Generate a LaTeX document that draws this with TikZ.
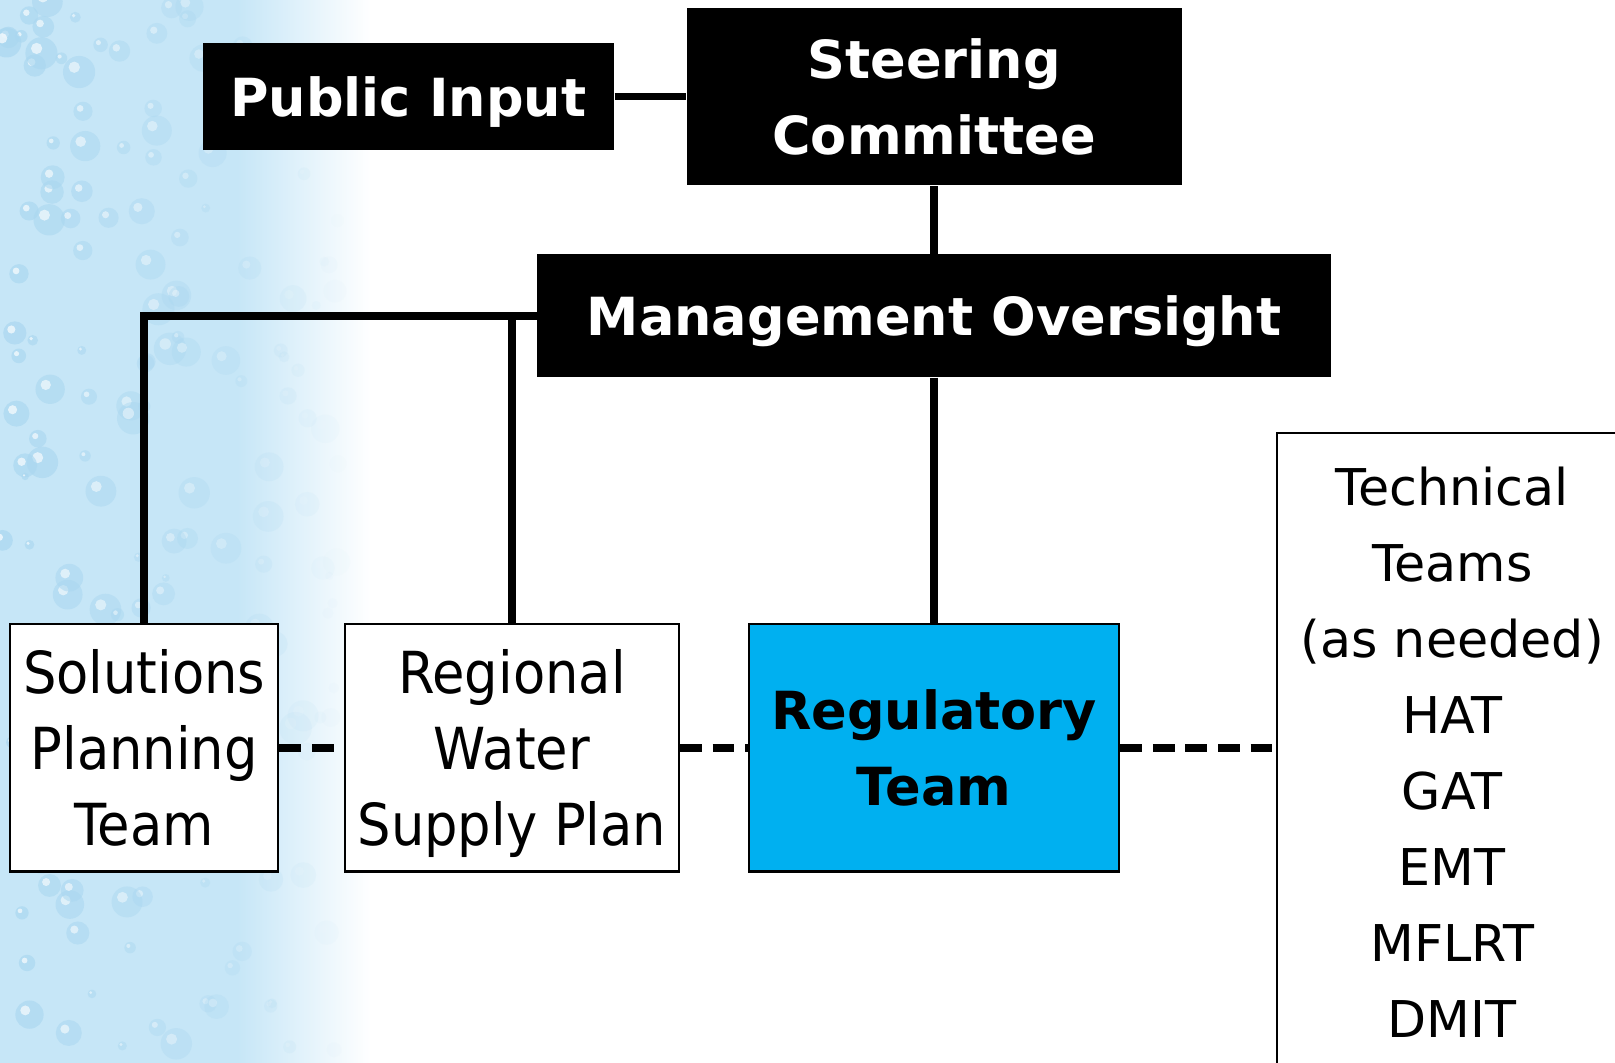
\documentclass[tikz,border=0pt]{standalone}
\usepackage{fontspec}
\setmainfont{DejaVu Sans}
\newfontfamily\narrowfont{DejaVu Sans}[FakeStretch=0.91]
\usepackage{tikz}
\usetikzlibrary{positioning}
\definecolor{dropblue}{RGB}{198,230,247}
\definecolor{droprim}{RGB}{170,215,240}
\definecolor{regblue}{RGB}{0,176,240}

\begin{document}
\begin{tikzpicture}[
        x=0.01cm, y=-0.01cm,
        every node/.style={align=center, inner sep=0pt, text depth=0pt},
        head/.style={rectangle, fill=black, text=white, font=\fontsize{14.5}{21}\selectfont\bfseries},
        team/.style={rectangle, draw, line width=0.6pt, fill=white, minimum height=2.4cm, font=\narrowfont\fontsize{16}{21}\selectfont},
        tech/.style={rectangle, draw, line width=0.6pt, fill=white, anchor=north, inner ysep=0.33cm, minimum width=3.4cm, font=\fontsize{14}{21}\selectfont},
        link/.style={line width=2.3pt},
        dashlink/.style={line width=2.3pt, dash pattern=on 6pt off 3pt}
    ]
    \useasboundingbox (0,0) rectangle (1568,1032);
    \clip (0,0) rectangle (1568,1032);

    % Water background on the left
    \fill[dropblue] (0,0) rectangle (230,1032);
    \shade[left color=dropblue, right color=white] (230,0) rectangle (360,1032);
    \pgfmathsetseed{42}
    \foreach \k in {1,...,170}{
        \pgfmathsetmacro{\dx}{rnd*330}
        \pgfmathsetmacro{\dy}{rnd*1032}
        \pgfmathsetmacro{\dr}{1+rnd*3.5}
        \pgfmathsetmacro{\dop}{0.7*max(0,1-\dx/340)}
        \fill[droprim, opacity=\dop] (\dx,\dy) circle[radius=\dr pt];
        \fill[white, opacity=\dop] (\dx-0.3*\dr*3.5,\dy-0.3*\dr*3.5) circle[radius=0.35*\dr pt];
    }

    % Boxes
    \node[head, minimum width=3.99cm, minimum height=1.04cm] (pub) at (396.5,94) {Public Input};
    \node[head, minimum width=4.8cm, minimum height=1.72cm] (steer) at (907,94) {Steering\\Committee};
    \node[head, minimum width=7.7cm, minimum height=1.19cm] (mgmt) at (907,306.5) {Management Oversight};
    \node[team, minimum width=2.6cm] (sol) at (140,726) {Solutions\\Planning\\Team};
    \node[team, minimum width=3.24cm] (rwsp) at (497,726) {Regional\\Water\\Supply Plan};
    \node[team, fill=regblue, minimum width=3.59cm, font=\fontsize{14.5}{21}\selectfont\bfseries] (reg) at (907,726) {Regulatory\\Team};
    \node[tech] (tech) at (1410,419) {Technical\\Teams\\(as needed)\\HAT\\GAT\\EMT\\MFLRT\\DMIT};

    % Solid links
    \draw[link, line width=2pt] (pub) -- (steer);
    \draw[link] (steer) -- (mgmt);
    \draw[link] (mgmt) -- (reg);
    \draw[link] (mgmt.west) -| (sol.north);
    \draw[link] (rwsp.north) -- (rwsp.north |- mgmt.west);

    % Dashed links
    \draw[dashlink] (sol) -- (rwsp);
    \draw[dashlink] (rwsp) -- (reg);
    \draw[dashlink] (reg.east) -- (reg.east -| tech.west);

\end{tikzpicture}
\end{document}
